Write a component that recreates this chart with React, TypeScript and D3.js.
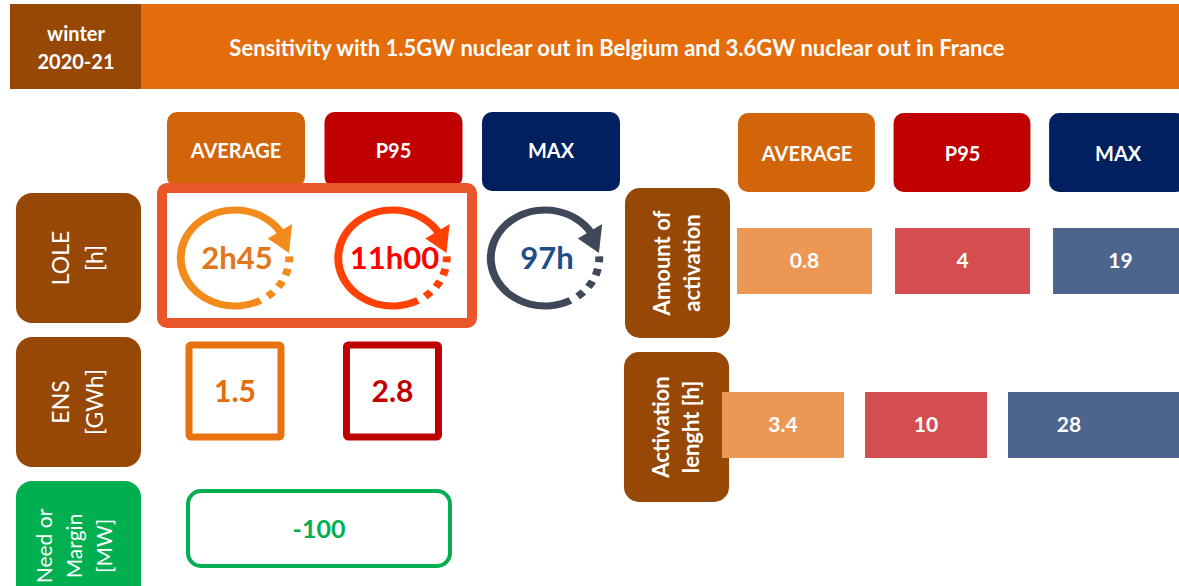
import React from 'react';
import * as d3 from 'd3';

// values read from the infographic
const categories = ['AVERAGE', 'P95', 'MAX'];
const loleValues = ['2h45', '11h00', '97h'];
const ensValues = ['1.5', '2.8'];
const marginValues = ['-100'];
const activationAmount = ['0.8', '4', '19'];
const activationLength = ['3.4', '10', '28'];
const rowLabels = ['LOLE', 'ENS', 'Need'];
const rowLabelLines = [['LOLE', '[h]'], ['ENS', '[GWh]'], ['Need or', 'Margin', '[MW]']];
const rightLabelLines = [['Amount of', 'activation'], ['Activation', 'lenght [h]']];
const title = 'Sensitivity with 1.5GW nuclear out in Belgium and 3.6GW nuclear out in France';
const season = ['winter', '2020-21'];

const W = 1179;
const H = 586;
const FONT = 'Lato, "Open Sans", sans-serif';

const headerFill = ['#D2640A', '#C00000', '#002060'];
const ringColor = ['#F38A1C', '#FF4103', '#3E4859'];
const ringText = ['#E2761B', '#FF0000', '#1F4E8A'];
const ensStroke = ['#E8730E', '#C00000'];
const ensText = ['#E46C0A', '#C00000'];
const valueFill = ['#ED9755', '#D44D4F', '#4D648D'];
const brown = '#974706';
const green = '#00B050';

const rad = (d: number) => (d * Math.PI) / 180;

const Ring = ({ cx, cy, color }: { cx: number; cy: number; color: string }) => {
  const r = 48;
  const w = 7;
  const arc = d3.arc<any>().innerRadius(r - w / 2).outerRadius(r + w / 2);
  const solid = arc({ startAngle: rad(152), endAngle: rad(418) });
  const dashes = [[88, 95], [103, 111], [119, 127], [135, 143]].map(([a, b]) =>
    arc({ startAngle: rad(a), endAngle: rad(b) })
  );
  const pt = (deg: number, rr: number) => [rr * Math.sin(rad(deg)), -rr * Math.cos(rad(deg))];
  const head = [pt(56, r + 13), pt(56, r - 13), pt(84, r)];
  return (
    <g transform={`translate(${cx},${cy}) scale(1.13,1)`}>
      <path d={solid || ''} fill={color} />
      {dashes.map((d, i) => (
        <path key={i} d={d || ''} fill={color} />
      ))}
      <path d={d3.line()(head as [number, number][]) + 'Z'} fill={color} />
    </g>
  );
};

export default function App() {
  // columns on the left (LOLE / ENS block)
  const xLeft = d3.scaleBand<string>().domain(categories).range([167, 620]).paddingInner(0.124);
  // columns on the right (activation block)
  const xRightHead = d3.scaleBand<string>().domain(categories).range([738, 1186]).paddingInner(0.12);
  const xRow1 = d3.scaleBand<string>().domain(categories).range([737, 1188]).paddingInner(0.146);
  const xRow2 = d3.scaleBand<string>().domain(categories).range([722, 1130]).paddingInner(0.147);
  const yRows = d3.scaleBand<string>().domain(rowLabels).range([193, 611]).paddingInner(0.097);

  const rowCy = (k: string) => (yRows(k) as number) + yRows.bandwidth() / 2;
  const colCx = (k: string) => (xLeft(k) as number) + xLeft.bandwidth() / 2;

  return (
    <svg
      width={W}
      height={H}
      style={{ position: 'absolute', left: 0, top: 0, background: '#fff', fontFamily: FONT }}
    >
      {/* header band */}
      <rect x={141} y={4} width={W - 141} height={85} fill="#E46C0A" />
      <rect x={10} y={4} width={131} height={85} fill={brown} />
      {season.map((s, i) => (
        <text key={s} x={76} y={34 + i * 28} dy="0.35em" textAnchor="middle" fill="#fff" fontSize={20} fontWeight={700}>
          {s}
        </text>
      ))}
      <text x={617} y={48} dy="0.35em" textAnchor="middle" fill="#fff" fontSize={22} fontWeight={700}>
        {title}
      </text>

      {/* left column headers */}
      {categories.map((c, i) => (
        <g key={c}>
          <rect x={xLeft(c)} y={112} width={xLeft.bandwidth()} height={i === 2 ? 79 : 75} rx={10} fill={headerFill[i]} />
          <text x={colCx(c)} y={151} dy="0.35em" textAnchor="middle" fill="#fff" fontSize={20} fontWeight={700}>
            {c}
          </text>
        </g>
      ))}

      {/* row labels */}
      {rowLabels.map((k, i) => {
        const lines = rowLabelLines[i];
        const fs = lines.length > 2 ? 21 : 23;
        const lh = lines.length > 2 ? 30 : 34;
        const cy = rowCy(k);
        return (
          <g key={k}>
            <rect x={16} y={yRows(k)} width={125} height={yRows.bandwidth()} rx={16} fill={k === 'Need' ? green : brown} />
            <g transform={`translate(${lines.length > 2 ? 75 : 78},${cy}) rotate(-90)`}>
              {lines.map((t, j) => (
                <text key={t} x={0} y={(j - (lines.length - 1) / 2) * lh} dy="0.35em" textAnchor="middle" fill="#fff" fontSize={fs}>
                  {t}
                </text>
              ))}
            </g>
          </g>
        );
      })}

      {/* LOLE rings */}
      {loleValues.map((v, i) => {
        const c = categories[i];
        const cx = colCx(c) - (i === 2 ? 6 : 1);
        return (
          <g key={v}>
            <Ring cx={cx} cy={258} color={ringColor[i]} />
            <text x={cx + 2} y={258} dy="0.35em" textAnchor="middle" fill={ringText[i]} fontSize={31} fontWeight={700}>
              {v}
            </text>
          </g>
        );
      })}
      <rect x={162} y={188} width={310} height={135} rx={5} fill="none" stroke="#E8562A" strokeWidth={10} />

      {/* ENS squares */}
      {ensValues.map((v, i) => {
        const cx = colCx(categories[i]) - 1;
        const cy = 391;
        return (
          <g key={v}>
            <rect x={cx - 46} y={cy - 46} width={92} height={92} rx={2} fill="none" stroke={ensStroke[i]} strokeWidth={7} />
            <text x={cx} y={cy} dy="0.35em" textAnchor="middle" fill={ensText[i]} fontSize={30} fontWeight={700}>
              {v}
            </text>
          </g>
        );
      })}

      {/* margin */}
      {marginValues.map((v) => (
        <g key={v}>
          <rect x={188} y={491} width={262} height={75} rx={13} fill="none" stroke={green} strokeWidth={4} />
          <text x={319} y={529} dy="0.35em" textAnchor="middle" fill={green} fontSize={25} fontWeight={700}>
            {v}
          </text>
        </g>
      ))}

      {/* right column headers */}
      {categories.map((c, i) => (
        <g key={c}>
          <rect x={xRightHead(c)} y={113} width={xRightHead.bandwidth()} height={79} rx={10} fill={headerFill[i]} />
          <text x={(xRightHead(c) as number) + 69} y={154} dy="0.35em" textAnchor="middle" fill="#fff" fontSize={20} fontWeight={700}>
            {c}
          </text>
        </g>
      ))}

      {/* right labels */}
      {rightLabelLines.map((lines, i) => {
        const y0 = i === 0 ? 188 : 352;
        const x0 = i === 0 ? 625 : 624;
        return (
          <g key={i}>
            <rect x={x0} y={y0} width={105} height={150} rx={15} fill={brown} />
            <g transform={`translate(${x0 + 52},${y0 + 75}) rotate(-90)`}>
              {lines.map((t, j) => (
                <text key={t} x={0} y={(j - 0.5) * 30} dy="0.35em" textAnchor="middle" fill="#fff" fontSize={22} fontWeight={700}>
                  {t}
                </text>
              ))}
            </g>
          </g>
        );
      })}

      {/* activation values */}
      {activationAmount.map((v, i) => {
        const c = categories[i];
        const x = xRow1(c) as number;
        return (
          <g key={c}>
            <rect x={x} y={228} width={xRow1.bandwidth()} height={66} fill={valueFill[i]} />
            <text x={x + xRow1.bandwidth() / 2} y={261} dy="0.35em" textAnchor="middle" fill="#fff" fontSize={21} fontWeight={700}>
              {v}
            </text>
          </g>
        );
      })}
      {activationLength.map((v, i) => {
        const c = categories[i];
        const x = xRow2(c) as number;
        const bw = i === categories.length - 1 ? W - x : xRow2.bandwidth();
        return (
          <g key={c}>
            <rect x={x} y={392} width={bw} height={66} fill={valueFill[i]} />
            <text x={x + xRow2.bandwidth() / 2} y={425} dy="0.35em" textAnchor="middle" fill="#fff" fontSize={21} fontWeight={700}>
              {v}
            </text>
          </g>
        );
      })}
    </svg>
  );
}
